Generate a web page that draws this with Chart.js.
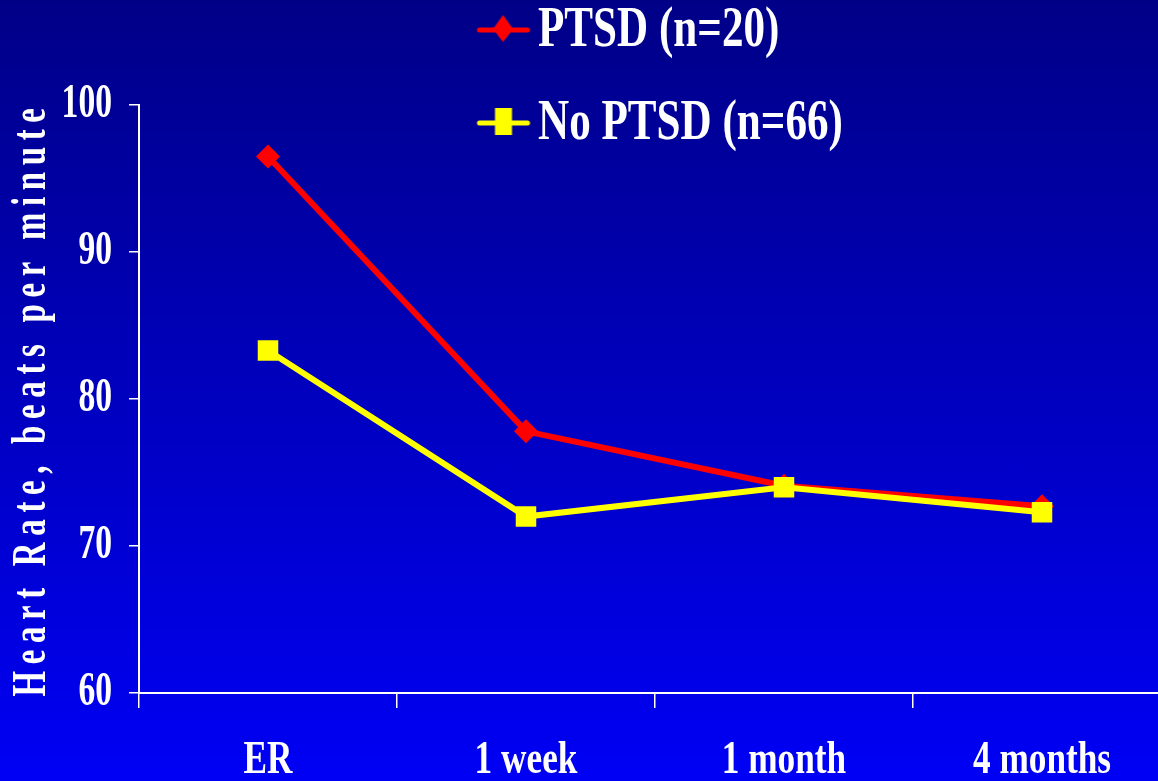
<!DOCTYPE html>
<html lang="en">
<head>
    <meta charset="UTF-8">
    <title>Heart Rate, PTSD vs No PTSD</title>
    <style>
        html, body {
            margin: 0;
            padding: 0;
            overflow: hidden;
        }

        body {
            width: 1158px;
            height: 781px;
            background: linear-gradient(to bottom, #000087, #0000f5);
        }

        canvas {
            display: block;
        }
    </style>
</head>
<body>

<canvas id="myChart" width="1158" height="781"></canvas>

<script src="https://cdn.jsdelivr.net/npm/chart.js"></script>
<script>
    const labels = ['ER', '1 week', '1 month', '4 months'];
    const ptsd = [96.5, 77.8, 74.1, 72.7];
    const noPtsd = [83.3, 72.0, 74.0, 72.3];
    const yTicks = [60, 70, 80, 90, 100];

    const serif = "'Liberation Serif', 'Times New Roman', serif";

    // the slide uses a condensed Times: squeeze text along its own direction,
    // keyed by font size (legend 56, x ticks 47, y ticks 48, axis title 49)
    const squeeze = { 56: 0.77, 47: 0.75, 48: 0.70, 49: 0.67 };
    const spacing = { 49: 10 };

    const canvas = document.getElementById('myChart');
    const ctx = canvas.getContext('2d');
    const rawFill = ctx.fillText.bind(ctx);
    const rawMeasure = ctx.measureText.bind(ctx);

    function fontSize() {
        const m = /(\d+)px/.exec(ctx.font);
        return m ? m[1] : '';
    }

    ctx.fillText = function (text, x, y) {
        const size = fontSize();
        ctx.save();
        ctx.letterSpacing = (spacing[size] || 0) + 'px';
        ctx.translate(x, y);
        ctx.scale(squeeze[size] || 1, 1);
        rawFill(text, 0, 0);
        ctx.letterSpacing = '0px';
        ctx.restore();
    };

    ctx.measureText = function (text) {
        const size = fontSize();
        ctx.letterSpacing = (spacing[size] || 0) + 'px';
        const m = rawMeasure(text);
        ctx.letterSpacing = '0px';
        return { width: m.width * (squeeze[size] || 1) };
    };

    // legend glyph: line with the marker in the middle
    function legendIcon(color, shape) {
        const c = document.createElement('canvas');
        c.width = 80;
        c.height = 40;
        const g = c.getContext('2d');
        g.strokeStyle = color;
        g.fillStyle = color;
        g.lineWidth = 5;
        g.lineCap = 'round';
        g.beginPath();
        g.moveTo(26, 18);
        g.lineTo(74, 18);
        g.stroke();
        g.beginPath();
        if (shape === 'diamond') {
            g.moveTo(49.5, 3);
            g.lineTo(59.5, 17);
            g.lineTo(49.5, 30);
            g.lineTo(39.5, 17);
            g.closePath();
        } else {
            g.rect(41.5, 3, 17, 27);
        }
        g.fill();
        return c;
    }

    const icons = [legendIcon('#ff0000', 'diamond'), legendIcon('#ffff00', 'square')];

    const plotRight = 1171; // the x axis runs past the right edge of the slide

    // legend sits as a two-row block above the plot, left edge at x=440
    // (box is widened downwards too, the legend clips to it);
    // x axis is stretched out to plotRight
    const slideLayout = {
        id: 'slideLayout',
        afterLayout(chart) {
            const lg = chart.legend;
            lg.left = 440;
            lg.right = 900;
            lg.top = -33;
            lg.bottom = 170;
            lg.width = lg.right - lg.left;
            lg.height = lg.bottom - lg.top;

            const x = chart.scales.x;
            if (x && x.right < plotRight) {
                x.right = plotRight;
                x.width = x.right - x.left;
                chart.chartArea.right = plotRight;
                chart.chartArea.width = plotRight - chart.chartArea.left;
                x.configure();
            }
        }
    };

    new Chart(ctx, {
        type: 'line',
        data: {
            labels: labels,
            datasets: [{
                label: 'PTSD (n=20)',
                data: ptsd,
                borderColor: '#ff0000',
                backgroundColor: '#ff0000',
                borderWidth: 6,
                pointStyle: 'rectRot',
                pointRadius: 12,
                pointBorderWidth: 0,
                pointBackgroundColor: '#ff0000',
                tension: 0,
                order: 1
            }, {
                label: 'No PTSD (n=66)',
                data: noPtsd,
                borderColor: '#ffff00',
                backgroundColor: '#ffff00',
                borderWidth: 6,
                pointStyle: 'rect',
                pointRadius: 14.5,
                pointBorderWidth: 0,
                pointBackgroundColor: '#ffff00',
                tension: 0,
                order: 0
            }]
        },
        options: {
            responsive: false,
            animation: false,
            layout: {
                autoPadding: false,
                padding: { top: 2, right: 0, left: 0, bottom: 0 }
            },
            plugins: {
                tooltip: { enabled: false },
                legend: {
                    position: 'top',
                    align: 'start',
                    labels: {
                        color: '#ffffff',
                        font: { family: serif, size: 56, weight: 'bold' },
                        padding: 37,
                        boxWidth: 33,
                        usePointStyle: true,
                        sort: (a, b) => a.datasetIndex - b.datasetIndex,
                        generateLabels(chart) {
                            const items = Chart.defaults.plugins.legend.labels.generateLabels(chart);
                            items.forEach(it => { it.pointStyle = icons[it.datasetIndex]; });
                            return items;
                        }
                    }
                }
            },
            scales: {
                x: {
                    offset: true,
                    afterFit: s => {
                        s.height = 88;
                        s.paddingLeft = 0;
                        s.paddingRight = 0;
                    },
                    grid: {
                        offset: true,
                        drawOnChartArea: false,
                        color: '#ffffff',
                        lineWidth: 1.5,
                        tickLength: 15
                    },
                    border: { color: '#ffffff', width: 2 },
                    ticks: {
                        color: '#ffffff',
                        padding: 25,
                        font: { family: serif, size: 47, weight: 'bold' }
                    }
                },
                y: {
                    min: yTicks[0],
                    max: yTicks[yTicks.length - 1],
                    afterFit: s => { s.width = 139; },
                    grid: {
                        drawOnChartArea: false,
                        color: '#ffffff',
                        lineWidth: 1.5,
                        tickLength: 10
                    },
                    border: { color: '#ffffff', width: 2 },
                    ticks: {
                        stepSize: yTicks[1] - yTicks[0],
                        color: '#ffffff',
                        padding: 17,
                        font: { family: serif, size: 48, weight: 'bold' }
                    },
                    title: {
                        display: true,
                        text: 'Heart Rate, beats per minute',
                        color: '#ffffff',
                        padding: { top: 3, bottom: 0 },
                        font: { family: serif, size: 49, weight: 'bold' }
                    }
                }
            }
        },
        plugins: [slideLayout]
    });
</script>

</body>
</html>
